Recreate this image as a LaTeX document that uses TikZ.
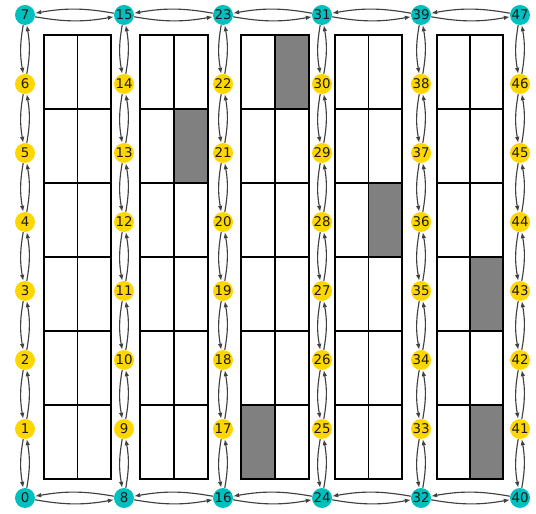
\documentclass[tikz,border=0pt]{standalone}
\usepackage{fontspec}
\setmainfont{DejaVu Sans}
\usetikzlibrary{arrows.meta}
\definecolor{ink}{HTML}{1A1A1A}
\definecolor{endcol}{HTML}{00BFBF}
\definecolor{midcol}{HTML}{FFD700}
\definecolor{edge}{HTML}{404040}
\definecolor{busy}{HTML}{808080}
\tikzset{
  station/.style={circle,fill=#1,minimum size=0.40cm,inner sep=0pt,font=\fontsize{7.6}{9}\selectfont,text=ink},
  link/.style={-{Latex[length=3.4pt,width=2.6pt]},line width=0.65pt,draw=edge,bend right=10},
  cell/.style={draw=black,line width=1pt},
  taken/.style={fill=busy}
}

\begin{document}
\begin{tikzpicture}[x=0.02cm,y=0.02cm]
  \useasboundingbox (0,0) rectangle (536,513);
  % occupied cells
  \fill[taken] (174,330) rectangle (208,404);
  \fill[taken] (275,404) rectangle (309,478);
  \fill[taken] (241,34) rectangle (275,108);
  \fill[taken] (368.5,256) rectangle (402,330);
  \fill[taken] (470,182) rectangle (503,256);
  \fill[taken] (470,34) rectangle (503,108);
  % shelves
  \foreach \xl/\xr in {44/111,140/208,241/309,335/402,437/503}{
    \draw[cell] (\xl,34) rectangle (\xr,478);
    \draw[cell] ({(\xl+\xr)/2},34) -- ({(\xl+\xr)/2},478);
    \foreach \k in {1,...,5}
      \draw[cell] (\xl,34+74*\k) -- (\xr,34+74*\k);
  }
  % stations
  \foreach \c in {0,...,5}{
    \foreach \r in {0,...,7}{
      \pgfmathtruncatemacro{\id}{8*\c+\r}
      \ifnum\r=0 \def\col{endcol}\else\ifnum\r=7 \def\col{endcol}\else\def\col{midcol}\fi\fi
      \node[station=\col] (n\id) at (25+99*\c,15+69*\r) {\id};
    }
  }
  % aisles
  \foreach \c in {0,...,5}{
    \foreach \r in {0,...,6}{
      \pgfmathtruncatemacro{\a}{8*\c+\r}
      \pgfmathtruncatemacro{\b}{\a+1}
      \draw[link] (n\a) to (n\b);
      \draw[link] (n\b) to (n\a);
    }
  }
  % cross aisles
  \foreach \c in {0,...,4}{
    \pgfmathtruncatemacro{\a}{8*\c}
    \pgfmathtruncatemacro{\b}{\a+8}
    \pgfmathtruncatemacro{\p}{\a+7}
    \pgfmathtruncatemacro{\q}{\a+15}
    \draw[link] (n\a) to (n\b);
    \draw[link] (n\b) to (n\a);
    \draw[link] (n\p) to (n\q);
    \draw[link] (n\q) to (n\p);
  }
\end{tikzpicture}
\end{document}
